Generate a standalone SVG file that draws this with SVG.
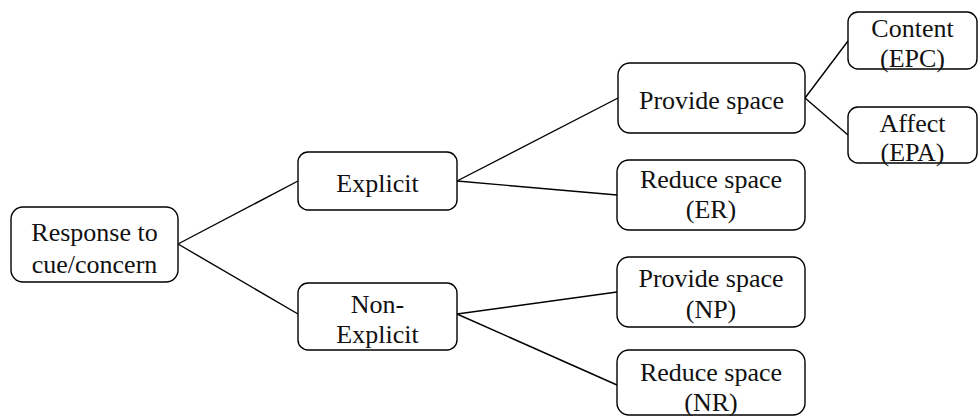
<svg xmlns="http://www.w3.org/2000/svg" width="979" height="416" viewBox="0 0 979 416">
<style>
.box{fill:#fff;stroke:#000;stroke-width:1.4}
.t{font-family:"Liberation Serif","Times New Roman",serif;font-size:26px;fill:#111;text-anchor:middle}
.c{stroke:#000;stroke-width:1.4;fill:none}
</style>
<rect width="979" height="416" fill="#fff"/>
<g id="connectors">
<line class="c" x1="178" y1="244" x2="298" y2="181"/>
<line class="c" x1="178" y1="244" x2="298" y2="314"/>
<line class="c" x1="457" y1="181" x2="618" y2="98"/>
<line class="c" x1="457" y1="181" x2="617" y2="195"/>
<line class="c" x1="457" y1="314" x2="617" y2="292"/>
<line class="c" x1="457" y1="314" x2="617" y2="385"/>
<line class="c" x1="805" y1="98" x2="848" y2="41"/>
<line class="c" x1="805" y1="98" x2="848" y2="135"/>
</g>
<g id="response">
<rect class="box" x="11" y="207" width="167" height="75" rx="12"/>
<text class="t" x="94.5" y="241">Response to</text>
<text class="t" x="94.5" y="273">cue/concern</text>
</g>
<g id="explicit">
<rect class="box" x="298" y="152" width="159" height="58" rx="10"/>
<text class="t" x="377.5" y="192">Explicit</text>
</g>
<g id="nonexplicit">
<rect class="box" x="298" y="283" width="159" height="67" rx="10"/>
<text class="t" x="377.5" y="313">Non-</text>
<text class="t" x="377.5" y="343">Explicit</text>
</g>
<g id="provide">
<rect class="box" x="618" y="63" width="187" height="70" rx="12"/>
<text class="t" x="711.5" y="109">Provide space</text>
</g>
<g id="content">
<rect class="box" x="848" y="12" width="129" height="57" rx="10"/>
<text class="t" x="912.5" y="37">Content</text>
<text class="t" x="912.5" y="67">(EPC)</text>
</g>
<g id="affect">
<rect class="box" x="848" y="107" width="129" height="56" rx="10"/>
<text class="t" x="912.5" y="132">Affect</text>
<text class="t" x="912.5" y="161">(EPA)</text>
</g>
<g id="er">
<rect class="box" x="617" y="160" width="188" height="70" rx="12"/>
<text class="t" x="711" y="188">Reduce space</text>
<text class="t" x="711" y="218">(ER)</text>
</g>
<g id="np">
<rect class="box" x="617" y="257" width="188" height="70" rx="12"/>
<text class="t" x="711" y="287">Provide space</text>
<text class="t" x="711" y="318">(NP)</text>
</g>
<g id="nr">
<rect class="box" x="617" y="350" width="188" height="65" rx="12"/>
<text class="t" x="711" y="381">Reduce space</text>
<text class="t" x="711" y="411">(NR)</text>
</g>
</svg>
